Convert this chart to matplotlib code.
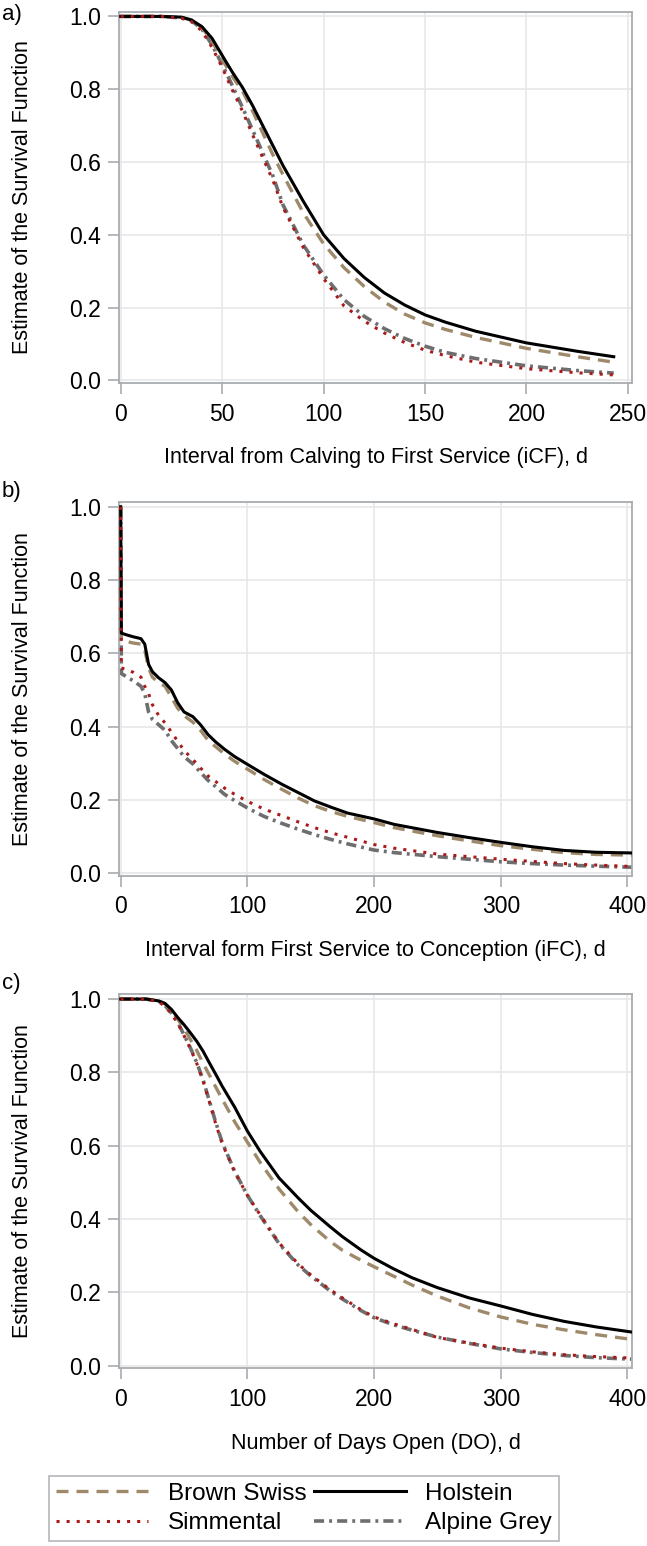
import matplotlib
matplotlib.use("Agg")
import matplotlib.pyplot as plt

plt.rcParams["font.family"] = ["Liberation Sans", "DejaVu Sans"]

# ---- data ----
breeds = ["Brown Swiss", "Holstein", "Simmental", "Alpine Grey"]

# a) interval calving -> first service (iCF)
days_a = [0, 10, 20, 30, 35, 40, 45, 50, 55, 60, 65, 70, 75, 80, 90, 100,
          110, 120, 130, 140, 150, 160, 175, 200, 225, 243]
bs_a = [1.0, 1.0, 1.0, 0.997, 0.99, 0.97, 0.932, 0.882, 0.835, 0.795, 0.74, 0.68,
        0.62, 0.565, 0.46, 0.375, 0.31, 0.258, 0.215, 0.182, 0.158, 0.14, 0.118,
        0.088, 0.065, 0.05]
hol_a = [1.0, 1.0, 1.0, 0.998, 0.99, 0.972, 0.94, 0.893, 0.847, 0.805, 0.755, 0.70,
         0.645, 0.59, 0.492, 0.40, 0.335, 0.283, 0.24, 0.207, 0.18, 0.16, 0.135,
         0.103, 0.08, 0.065]
sim_a = [1.0, 1.0, 1.0, 0.995, 0.985, 0.96, 0.915, 0.86, 0.798, 0.74, 0.675, 0.612,
         0.55, 0.475, 0.365, 0.28, 0.205, 0.163, 0.13, 0.104, 0.083, 0.068, 0.05,
         0.032, 0.021, 0.015]
ag_a = [1.0, 1.0, 1.0, 0.996, 0.988, 0.965, 0.922, 0.868, 0.81, 0.75, 0.688, 0.625,
        0.562, 0.482, 0.372, 0.29, 0.222, 0.176, 0.142, 0.115, 0.094, 0.077, 0.06,
        0.04, 0.027, 0.02]

# b) interval first service -> conception (iFC)
days_b = [0, 0.5, 5, 10, 16, 19, 22, 25, 30, 35, 40, 45, 50, 57, 63, 69, 75, 82,
          90, 100, 113, 127, 140, 153, 166, 179, 200, 216, 250, 275, 300, 325,
          350, 375, 405]
bs_b = [1.0, 0.64, 0.632, 0.628, 0.625, 0.61, 0.56, 0.535, 0.52, 0.51, 0.48, 0.45,
        0.43, 0.412, 0.39, 0.362, 0.345, 0.325, 0.305, 0.284, 0.256, 0.229, 0.205,
        0.184, 0.168, 0.155, 0.138, 0.124, 0.102, 0.088, 0.075, 0.065, 0.056,
        0.051, 0.049]
hol_b = [1.0, 0.655, 0.65, 0.645, 0.64, 0.625, 0.57, 0.55, 0.533, 0.52, 0.50, 0.465,
         0.44, 0.427, 0.405, 0.378, 0.358, 0.338, 0.318, 0.297, 0.27, 0.243, 0.22,
         0.197, 0.18, 0.164, 0.148, 0.133, 0.111, 0.097, 0.084, 0.072, 0.062,
         0.057, 0.055]
sim_b = [1.0, 0.56, 0.555, 0.548, 0.535, 0.51, 0.49, 0.46, 0.43, 0.41, 0.385,
         0.36, 0.335, 0.31, 0.287, 0.265, 0.25, 0.232, 0.215, 0.196, 0.175, 0.157,
         0.14, 0.124, 0.11, 0.098, 0.078, 0.068, 0.052, 0.045, 0.038, 0.032,
         0.026, 0.022, 0.018]
ag_b = [1.0, 0.545, 0.535, 0.525, 0.51, 0.49, 0.44, 0.42, 0.405, 0.39, 0.362, 0.34,
        0.318, 0.298, 0.275, 0.253, 0.236, 0.215, 0.198, 0.178, 0.155, 0.136, 0.12,
        0.105, 0.092, 0.08, 0.063, 0.056, 0.045, 0.038, 0.031, 0.026, 0.022,
        0.019, 0.016]

# c) days open (DO)
days_c = [0, 10, 20, 30, 35, 40, 45, 50, 55, 60, 65, 70, 75, 80, 90, 100, 110,
          125, 140, 150, 165, 175, 190, 200, 215, 230, 250, 275, 300, 325, 350,
          375, 403]
bs_c = [1.0, 1.0, 1.0, 0.995, 0.987, 0.97, 0.945, 0.92, 0.89, 0.86, 0.825, 0.793,
        0.76, 0.728, 0.665, 0.61, 0.555, 0.482, 0.42, 0.385, 0.34, 0.315, 0.287,
        0.27, 0.245, 0.22, 0.19, 0.158, 0.133, 0.113, 0.098, 0.085, 0.072]
hol_c = [1.0, 1.0, 1.0, 0.995, 0.988, 0.972, 0.95, 0.93, 0.908, 0.885, 0.858, 0.826,
         0.795, 0.763, 0.705, 0.64, 0.585, 0.512, 0.458, 0.424, 0.38, 0.352, 0.315,
         0.293, 0.265, 0.24, 0.213, 0.185, 0.163, 0.14, 0.121, 0.106, 0.092]
sim_c = [1.0, 1.0, 1.0, 0.993, 0.98, 0.96, 0.935, 0.9, 0.865, 0.825, 0.777, 0.72,
         0.66, 0.607, 0.528, 0.465, 0.412, 0.335, 0.278, 0.248, 0.208, 0.185,
         0.152, 0.133, 0.115, 0.099, 0.077, 0.062, 0.048, 0.038, 0.03, 0.025, 0.021]
ag_c = [1.0, 1.0, 1.0, 0.994, 0.982, 0.962, 0.937, 0.902, 0.867, 0.827, 0.78, 0.722,
        0.664, 0.61, 0.53, 0.465, 0.41, 0.333, 0.275, 0.245, 0.205, 0.182, 0.15,
        0.131, 0.112, 0.097, 0.078, 0.061, 0.046, 0.036, 0.028, 0.022, 0.018]

xlabels = ["Interval from Calving to First Service (iCF), d",
           "Interval form First Service to Conception (iFC), d",
           "Number of Days Open (DO), d"]
panel_tags = ["a)", "b)", "c)"]

# ---- styles ----
styles = {
    "Brown Swiss": dict(color="#9E8A6A", lw=2.4, dashes=(3.6, 2.4), zorder=3),
    "Holstein": dict(color="black", lw=2.2, linestyle="-", zorder=4),
    "Simmental": dict(color="#AA1A1A", lw=2.2, dashes=(1.0, 2.3), zorder=5),
    "Alpine Grey": dict(color="#6E6E6E", lw=2.6, dashes=(2.8, 1.4, 0.8, 1.4), zorder=2),
}
spine_c = "#A8ACB0"
grid_c = "#E8E8E8"

W, H = 647, 1546
fig = plt.figure(figsize=(W / 100, H / 100), dpi=100)

# axes boxes in pixel coordinates (top, bottom)
boxes = [(11.7, 383.3), (502.0, 875.7), (994.3, 1368.3)]
left_px, right_px = 119.3, 632.0
xlims = [(-0.7, 252.0), (-1.1, 403.6), (-1.1, 403.6)]
ylims = [(-0.008, 1.013), (-0.007, 1.013), (-0.007, 1.013)]
xticks = [[0, 50, 100, 150, 200, 250], [0, 100, 200, 300, 400], [0, 100, 200, 300, 400]]
tag_y = [14.5, 491, 983]

series = [
    (days_a, {"Brown Swiss": bs_a, "Holstein": hol_a, "Simmental": sim_a, "Alpine Grey": ag_a}),
    (days_b, {"Brown Swiss": bs_b, "Holstein": hol_b, "Simmental": sim_b, "Alpine Grey": ag_b}),
    (days_c, {"Brown Swiss": bs_c, "Holstein": hol_c, "Simmental": sim_c, "Alpine Grey": ag_c}),
]

handles = {}
for i, ((top, bot), (days, curves)) in enumerate(zip(boxes, series)):
    ax = fig.add_axes([left_px / W, 1 - bot / H, (right_px - left_px) / W, (bot - top) / H])
    for name in ["Alpine Grey", "Brown Swiss", "Holstein", "Simmental"]:
        ln, = ax.plot(days, curves[name], label=name, **styles[name])
        handles[name] = ln
    ax.set_xlim(*xlims[i])
    ax.set_ylim(*ylims[i])
    ax.set_xticks(xticks[i])
    ax.set_yticks([0.0, 0.2, 0.4, 0.6, 0.8, 1.0])
    ax.set_yticklabels(["0.0", "0.2", "0.4", "0.6", "0.8", "1.0"])
    ax.grid(True, color=grid_c, lw=1.2)
    ax.set_axisbelow(True)
    for sp in ax.spines.values():
        sp.set_color(spine_c)
        sp.set_linewidth(1.3)
    ax.tick_params(direction="out", length=8, width=1.2, color=spine_c,
                   labelsize=16.5, labelcolor="black")
    ax.tick_params(axis="y", pad=5)
    ax.tick_params(axis="x", pad=6)
    ax.set_xlabel(xlabels[i], fontsize=15.5)
    ax.set_ylabel("Estimate of the Survival Function", fontsize=15.5)
    ax.xaxis.set_label_coords(0.5, -0.2)
    ax.xaxis.label.set_va("center")
    ax.yaxis.set_label_coords(-0.188, 0.5)
    ax.yaxis.label.set_va("center")
    fig.text(2 / W, 1 - tag_y[i] / H, panel_tags[i], fontsize=16, va="center", ha="left")

order = ["Brown Swiss", "Simmental", "Holstein", "Alpine Grey"]
leg = fig.legend([handles[n] for n in order], order, ncol=2, loc="upper left",
                 bbox_to_anchor=(49 / W, 1 - 1476 / H), fontsize=17.5,
                 frameon=True, fancybox=False, edgecolor=spine_c,
                 handlelength=3.8, handletextpad=0.8, columnspacing=0.3,
                 labelspacing=0.3, borderpad=0.28, borderaxespad=0)
leg.get_frame().set_linewidth(1.3)

fig.savefig("out.png", dpi=100)
